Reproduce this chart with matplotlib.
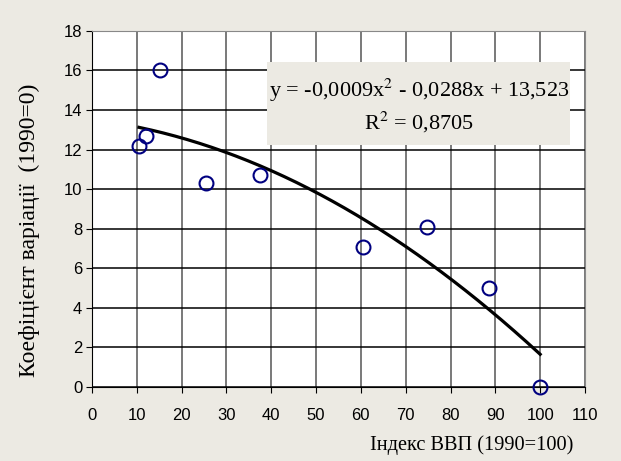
import numpy as np
import matplotlib.pyplot as plt
from matplotlib.patches import Rectangle

gdp_index = [10.5, 12.1, 15.3, 25.5, 37.5, 60.5, 74.8, 88.5, 100.0]
variation = [12.2, 12.7, 16.0, 10.3, 10.7, 7.05, 8.1, 5.0, 0.0]
# trendline coefficients as printed on the chart
coef = [-0.0009, -0.0288, 13.523]

xticks = list(range(0, 111, 10))
yticks = list(range(0, 19, 2))

bg = '#ECEAE3'
fig = plt.figure(figsize=(6.21, 4.61), dpi=100, facecolor=bg)
ax = fig.add_axes([0.148, 0.161, 0.794, 0.772])
ax.set_facecolor('white')

ax.set_xlim(0, 110)
ax.set_ylim(0, 18)
ax.set_xticks(xticks)
ax.set_yticks(yticks)
ax.xaxis.grid(True, color='#555555', linewidth=1.1)
ax.yaxis.grid(True, color='black', linewidth=1.1)
ax.set_axisbelow(True)
for s in ['top', 'right']:
    ax.spines[s].set_color('#888888')
ax.tick_params(labelsize=12, length=4, direction='out')
ax.tick_params(axis='x', pad=11)
ax.tick_params(axis='y', pad=3)
for lab in ax.get_xticklabels() + ax.get_yticklabels():
    lab.set_family('Liberation Sans')

xs = np.linspace(min(gdp_index), max(gdp_index), 200)
ax.plot(xs, np.polyval(coef, xs), color='black', linewidth=2.3, zorder=3)
ax.plot(gdp_index, variation, 'o', mfc='none', mec='#000080', mew=1.5,
        ms=10, zorder=4, clip_on=False)

ax.add_patch(Rectangle((0.355, 0.68), 0.615, 0.233, transform=ax.transAxes,
                       facecolor=bg, edgecolor='none', zorder=5))
ax.text(0.663, 0.834, 'y = -0,0009x$^2$ - 0,0288x + 13,523', transform=ax.transAxes,
        ha='center', va='center', family='Liberation Serif', fontsize=16,
        math_fontfamily='stix', zorder=6)
ax.text(0.663, 0.742, 'R$^2$ = 0,8705', transform=ax.transAxes,
        ha='center', va='center', family='Liberation Serif', fontsize=16,
        math_fontfamily='stix', zorder=6)

fig.text(0.047, 0.50, 'Коефіцієнт варіації  (1990=0)', rotation=90, ha='center', va='center',
         family='Liberation Serif', fontsize=17)
fig.text(0.924, 0.035, 'Індекс ВВП (1990=100)', ha='right', va='center',
         family='Liberation Serif', fontsize=14.7)

plt.savefig('out.png', dpi=100, facecolor=bg)
